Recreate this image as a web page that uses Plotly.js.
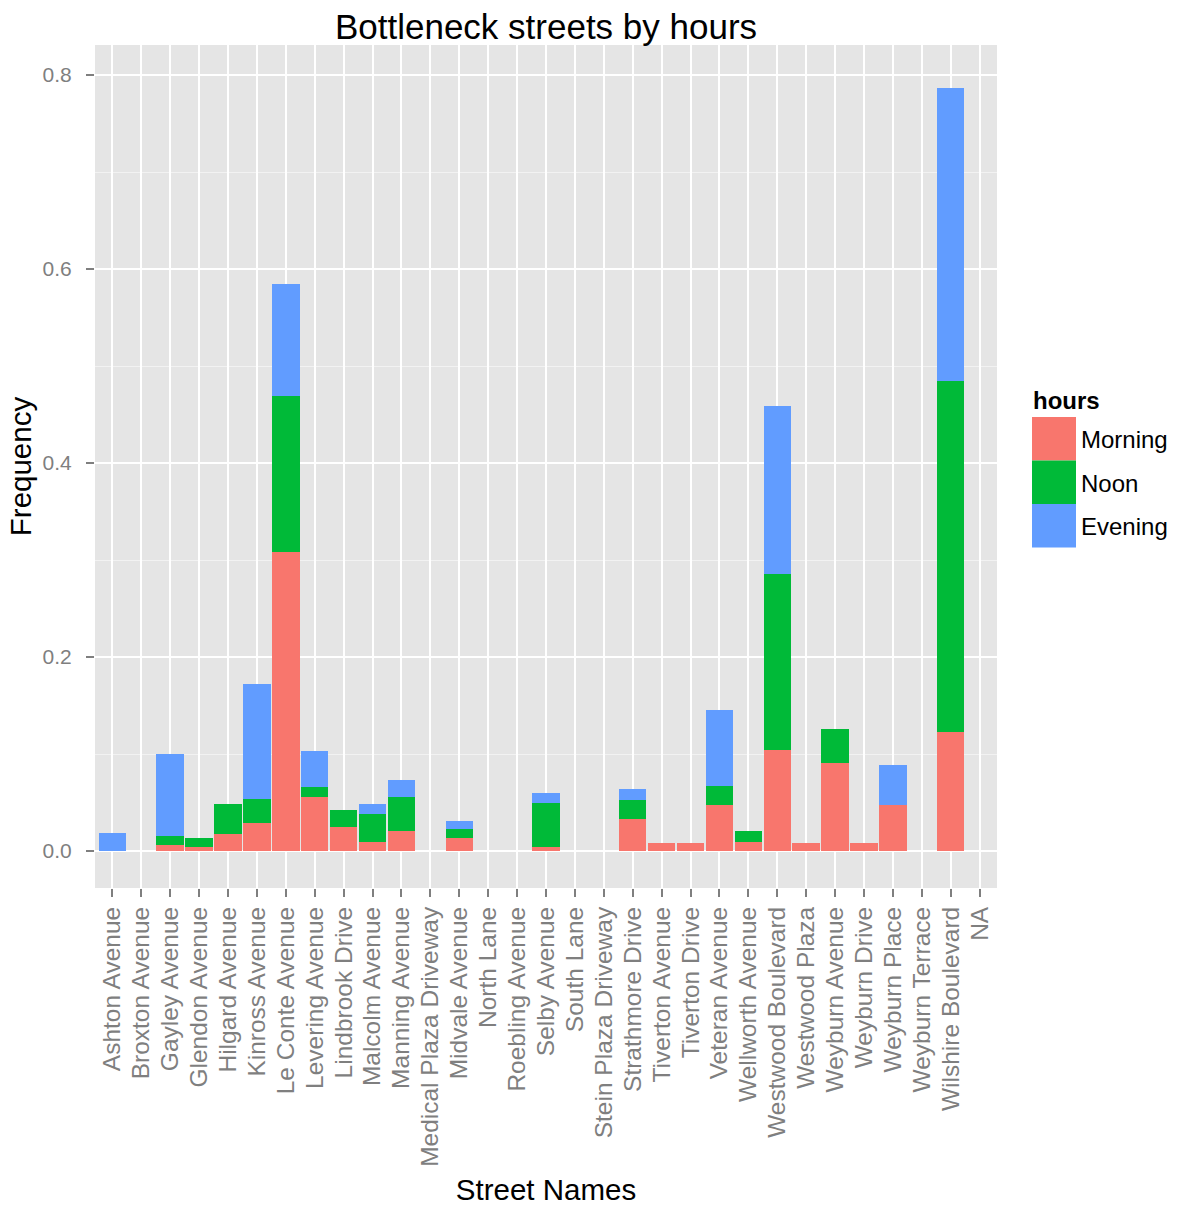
<!DOCTYPE html>
<html>
<head>
<meta charset="utf-8">
<script src="https://cdn.plot.ly/plotly-3.0.1.min.js"></script>
<style>
  html, body { margin: 0; padding: 0; background: #ffffff; }
  #chart { width: 1180px; height: 1206px; }
</style>
</head>
<body>
<div id="chart"></div>
<script>
const streets = ["Ashton Avenue","Broxton Avenue","Gayley Avenue","Glendon Avenue","Hilgard Avenue","Kinross Avenue","Le Conte Avenue","Levering Avenue","Lindbrook Drive","Malcolm Avenue","Manning Avenue","Medical Plaza Driveway","Midvale Avenue","North Lane","Roebling Avenue","Selby Avenue","South Lane","Stein Plaza Driveway","Strathmore Drive","Tiverton Avenue","Tiverton Drive","Veteran Avenue","Wellworth Avenue","Westwood Boulevard","Westwood Plaza","Weyburn Avenue","Weyburn Drive","Weyburn Place","Weyburn Terrace","Wilshire Boulevard","NA"];

const morning = [null,null,0.006,0.004,0.0175,0.029,0.308,0.056,0.025,0.0096,0.021,null,0.014,null,null,0.004,null,null,0.033,0.008,0.008,0.048,0.0096,0.104,0.008,0.091,0.008,0.048,null,0.123,null];
const noon    = [null,null,0.0095,0.0097,0.031,0.025,0.161,0.010,0.017,0.029,0.035,null,0.009,null,null,0.046,null,null,0.0196,null,null,0.019,0.0113,0.1815,null,0.035,null,null,null,0.362,null];
const evening = [0.019,null,0.085,null,null,0.118,0.116,0.037,null,0.010,0.017,null,0.008,null,null,0.010,null,null,0.011,null,null,0.079,null,0.1735,null,null,null,0.041,null,0.302,null];

const seriesNames = ["Morning","Noon","Evening"];
const seriesColors = ["#F8766D","#00BA38","#619CFF"];
const seriesValues = [morning, noon, evening];
const legendTitle = "hours";

const FONT = "Liberation Sans, Arial, sans-serif";

const traces = seriesValues.map((vals, i) => ({
  type: "bar",
  name: seriesNames[i],
  x: streets,
  y: vals,
  width: 0.95,
  marker: { color: seriesColors[i], line: { width: 0 } },
  showlegend: false,
  hoverinfo: "x+y+name"
}));

// plot area in pixels
const L = 95, R = 997, T = 45, B = 888;
const W = R - L, H = B - T;
const px = v => (v - L) / W;
const py = v => (B - v) / H;

// manual ggplot-style legend (large square keys)
const shapes = [];
const annotations = [];
const keyTop = 417, keyH = 43.5, keyL = 1032, keyR = 1076;
seriesNames.forEach((nm, i) => {
  const y0 = keyTop + i * keyH, y1 = y0 + keyH;
  shapes.push({
    type: "rect", xref: "paper", yref: "paper",
    x0: px(keyL), x1: px(keyR), y0: py(y1), y1: py(y0),
    fillcolor: seriesColors[i], line: { width: 0 }, layer: "above"
  });
  annotations.push({
    xref: "paper", yref: "paper", x: px(1079), y: py((y0 + y1) / 2 + 1),
    xanchor: "left", yanchor: "middle", showarrow: false,
    text: nm, font: { family: FONT, size: 24, color: "#000000" }
  });
});
annotations.push({
  xref: "paper", yref: "paper", x: px(1031), y: py(400),
  xanchor: "left", yanchor: "middle", showarrow: false,
  text: "<b>" + legendTitle + "</b>", font: { family: FONT, size: 24, color: "#000000" }
});

const layout = {
  width: 1180, height: 1206,
  margin: { l: L, r: 1180 - R, t: T, b: 1206 - B, pad: 0 },
  paper_bgcolor: "#FFFFFF",
  plot_bgcolor: "#E5E5E5",
  barmode: "stack",
  bargap: 0.05,
  font: { family: FONT, color: "#000000" },
  title: {
    text: "Bottleneck streets by hours",
    font: { family: FONT, size: 35, color: "#000000" },
    x: 0.5, xref: "paper", xanchor: "center",
    y: 1 - 27 / 1206, yref: "container", yanchor: "middle"
  },
  xaxis: {
    type: "category",
    categoryorder: "array",
    categoryarray: streets,
    range: [-0.6, streets.length - 0.4],
    tickmode: "array",
    tickvals: streets,
    ticktext: streets,
    tickangle: -90,
    tickfont: { family: FONT, size: 24.5, color: "#7F7F7F" },
    ticks: "outside", ticklen: 8, tickwidth: 1.5, tickcolor: "#7F7F7F",
    showgrid: true, gridcolor: "#FFFFFF", gridwidth: 2,
    zeroline: false, showline: false,
    automargin: false,
    title: { text: "Street Names", font: { family: FONT, size: 29.5, color: "#000000" }, standoff: 13 }
  },
  yaxis: {
    range: [-0.038, 0.831],
    tickvals: [0, 0.2, 0.4, 0.6, 0.8],
    tickformat: ".1f",
    tickfont: { family: FONT, size: 21, color: "#7F7F7F" },
    ticklabelstandoff: 10,
    ticks: "outside", ticklen: 8, tickwidth: 1.5, tickcolor: "#7F7F7F",
    showgrid: true, gridcolor: "#FFFFFF", gridwidth: 2,
    minor: { tickvals: [0.1, 0.3, 0.5, 0.7], showgrid: true, gridcolor: "#F2F2F2", gridwidth: 1, ticks: "" },
    zeroline: false, showline: false,
    automargin: false,
    title: { text: "Frequency", font: { family: FONT, size: 29.5, color: "#000000" }, standoff: 2 }
  },
  shapes: shapes,
  annotations: annotations
};

Plotly.newPlot("chart", traces, layout, { displayModeBar: false, responsive: false });
</script>
</body>
</html>
